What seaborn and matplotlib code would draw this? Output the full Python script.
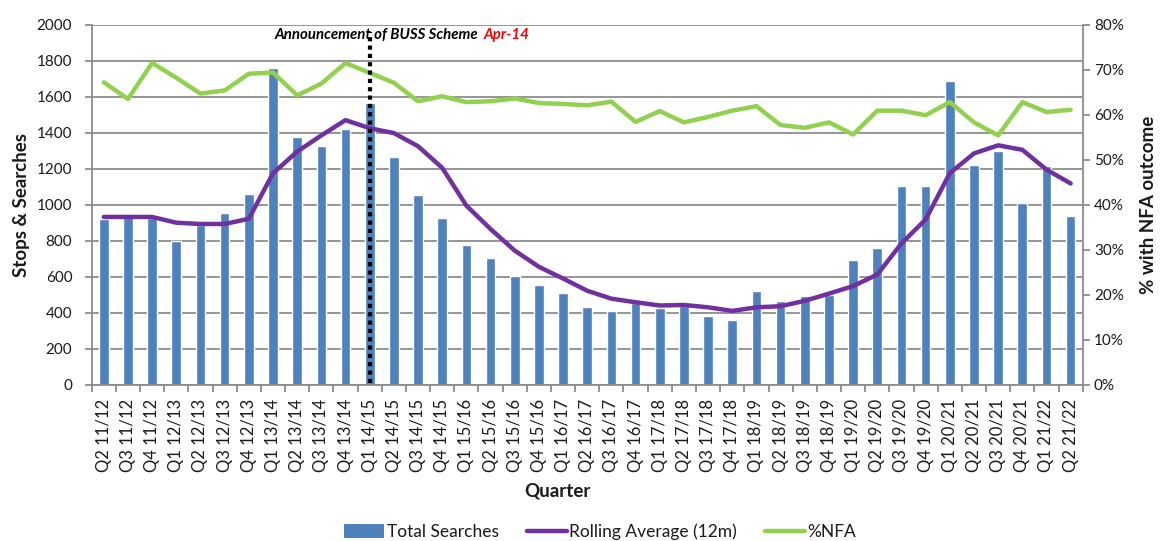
import numpy as np
import matplotlib
matplotlib.use('Agg')
import matplotlib.pyplot as plt
from matplotlib.patches import Patch
from matplotlib.lines import Line2D
from matplotlib.ticker import FuncFormatter, MultipleLocator, FixedLocator
import seaborn as sns

# ── Data ──────────────────────────────────────────────────────────────────────
quarters = ['Q2 11/12', 'Q3 11/12', 'Q4 11/12',
            'Q1 12/13', 'Q2 12/13', 'Q3 12/13', 'Q4 12/13',
            'Q1 13/14', 'Q2 13/14', 'Q3 13/14', 'Q4 13/14',
            'Q1 14/15', 'Q2 14/15', 'Q3 14/15', 'Q4 14/15',
            'Q1 15/16', 'Q2 15/16', 'Q3 15/16', 'Q4 15/16',
            'Q1 16/17', 'Q2 16/17', 'Q3 16/17', 'Q4 16/17',
            'Q1 17/18', 'Q2 17/18', 'Q3 17/18', 'Q4 17/18',
            'Q1 18/19', 'Q2 18/19', 'Q3 18/19', 'Q4 18/19',
            'Q1 19/20', 'Q2 19/20', 'Q3 19/20', 'Q4 19/20',
            'Q1 20/21', 'Q2 20/21', 'Q3 20/21', 'Q4 20/21',
            'Q1 21/22', 'Q2 21/22']

total_searches = [920, 935, 925, 800, 885, 955, 1060, 1760, 1375, 1328, 1420,
                  1565, 1265, 1053, 928, 778, 705, 603, 555, 512, 430,
                  410, 452, 427, 435, 383, 357, 521, 466, 494, 500,
                  692, 758, 1106, 1102, 1690, 1222, 1300, 1012, 1213, 937]

rolling_avg = [932, 932, 932, 900, 893, 893, 922, 1175, 1295, 1385, 1470,
               1425, 1398, 1325, 1205, 995, 865, 745, 655, 590, 522,
               478, 458, 440, 443, 430, 410, 430, 436, 466, 506,
               548, 612, 785, 918, 1175, 1285, 1330, 1305, 1195, 1118]

pct_nfa = [67.2, 63.5, 71.5, 68.2, 64.7, 65.4, 69.1, 69.4, 64.3, 66.9, 71.5,
           69.3, 67.1, 63.0, 64.1, 62.8, 63.0, 63.6, 62.6, 62.4, 62.1,
           62.9, 58.4, 60.8, 58.3, 59.5, 60.9, 61.9, 57.7, 57.1, 58.3,
           55.6, 60.9, 60.9, 59.9, 62.8, 58.3, 55.4, 62.8, 60.6, 61.1]

announce_quarter = 'Q1 14/15'

# ── Palette / style ───────────────────────────────────────────────────────────
BLUE = '#4F81BD'; PURPLE = '#7030A0'; GREEN = '#92D050'
GRID = '#8C8C8C'; TXT = '#1a1a1a'

sns.set_theme(style='white')
plt.rcParams.update({
    'font.family': ['Lato', 'DejaVu Sans'],
    'axes.edgecolor': GRID, 'axes.linewidth': 1.3,
    'xtick.color': GRID, 'ytick.color': GRID,
    'xtick.labelcolor': TXT, 'ytick.labelcolor': TXT,
    'text.color': TXT, 'axes.labelcolor': TXT,
})

fig = plt.figure(figsize=(11.61, 5.41), dpi=100)
ax = fig.add_axes([0.0790, 0.2889, 0.9326 - 0.0790, 0.9543 - 0.2889])

pos = np.arange(len(quarters))

# bars + rolling average on the primary axis
sns.barplot(x=quarters, y=total_searches, color=BLUE, saturation=1,
            width=0.4, ax=ax, zorder=2)
sns.lineplot(x=pos, y=rolling_avg, color=PURPLE, lw=3.2, ax=ax, zorder=3)
ax.set_ylim(0, 2000)
ax.set_xlim(-0.5, len(quarters) - 0.5)
ax.yaxis.set_major_locator(MultipleLocator(200))
ax.grid(True, axis='y', color=GRID, lw=1.3)
ax.set_axisbelow(True)

# %NFA on the secondary axis
ax2 = ax.twinx()
sns.lineplot(x=pos, y=pct_nfa, color=GREEN, lw=3.2, ax=ax2)
ax2.set_ylim(0, 80)
ax2.yaxis.set_major_locator(MultipleLocator(10))
ax2.yaxis.set_major_formatter(FuncFormatter(lambda v, p: f'{v:.0f}%'))

for a in (ax, ax2):
    a.spines['top'].set_visible(False)
    if a.get_legend():
        a.get_legend().remove()
ax.spines['right'].set_visible(False)
ax2.spines['left'].set_visible(False)
ax2.spines['bottom'].set_visible(False)

# ticks: labels at bar centres, tick marks at category boundaries
ax.tick_params(axis='x', which='major', length=0, pad=10, rotation=90, labelsize=12)
ax.xaxis.set_minor_locator(FixedLocator(np.arange(len(quarters) + 1) - 0.5))
ax.tick_params(axis='x', which='minor', length=5, width=1.3, bottom=True)
ax.tick_params(axis='y', length=5, width=1.3, labelsize=11, left=True, pad=9)
ax2.tick_params(axis='y', length=5, width=1.3, labelsize=11, right=True, pad=3)

ax.set_xlabel('Quarter', fontsize=13.5, fontweight='bold')
ax.set_ylabel('Stops & Searches', fontsize=13.5, fontweight='bold')
ax2.set_ylabel('% with NFA outcome', fontsize=13.5, fontweight='bold')
ax.xaxis.set_label_coords(0.47, -0.272)
ax.yaxis.set_label_coords(-0.062, 0.5)
ax2.yaxis.set_label_coords(1.058, 0.5)

# announcement marker
x_ann = quarters.index(announce_quarter)
ax2.axvline(x_ann, ymin=0.005, ymax=0.98, color='black', lw=3,
            ls=(0, (1, 1)), zorder=5)
t1 = ax2.text(0.185, 0.971, 'Announcement of BUSS Scheme', transform=ax2.transAxes,
              ha='left', va='center', fontsize=10.8, fontweight='bold',
              fontstyle='italic', color='black', zorder=6)
ax2.annotate('Apr-14', xy=(1, 0.5), xycoords=t1, xytext=(3.5, 0),
             textcoords='offset points', ha='left', va='center', fontsize=10.8,
             fontweight='bold', fontstyle='italic', color='red')

# legend along the bottom edge
handles = [Patch(facecolor=BLUE, edgecolor='none'),
           Line2D([], [], color=PURPLE, lw=3.2),
           Line2D([], [], color=GREEN, lw=3.2)]
fig.legend(handles, ['Total Searches', 'Rolling Average (12m)', '%NFA'],
           loc='center', bbox_to_anchor=(0.517, 0.017), ncol=3, frameon=False,
           fontsize=12.5, handlelength=2.3, handleheight=0.8, handletextpad=0.15,
           columnspacing=1.6)

fig.savefig('out.png', dpi=100)
